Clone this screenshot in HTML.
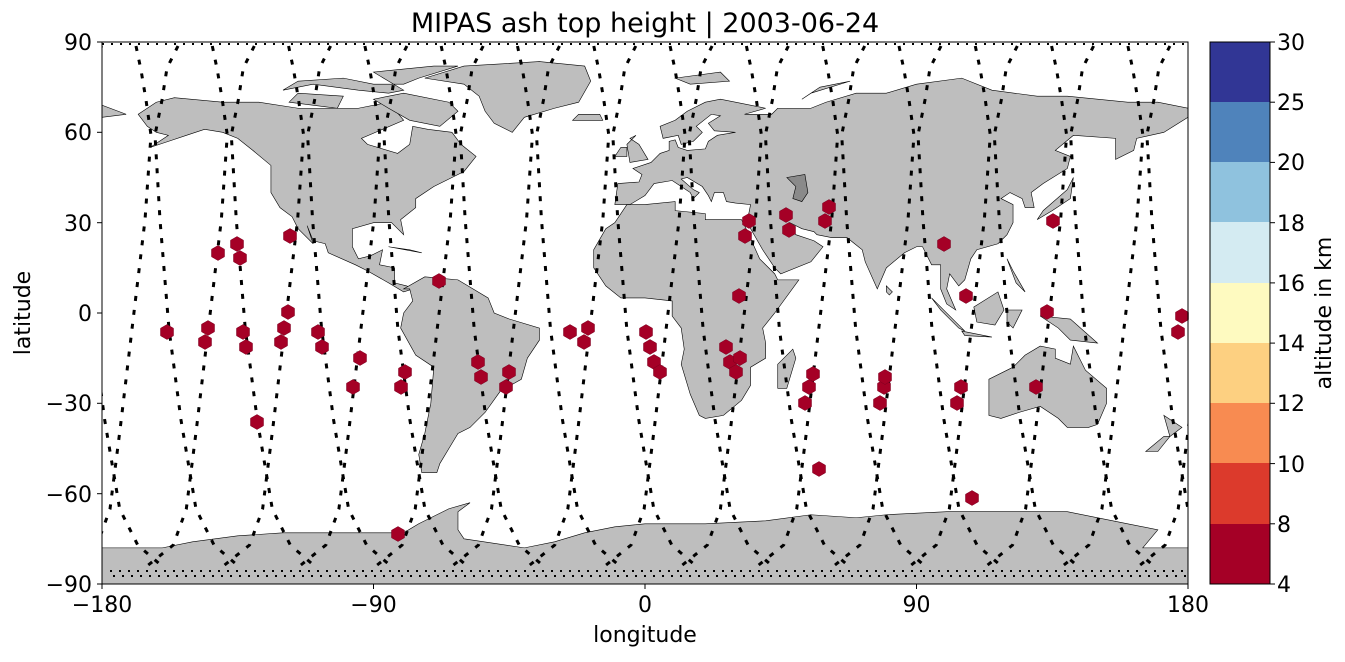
<!DOCTYPE html>
<html><head><meta charset="utf-8"><style>
html,body{margin:0;padding:0;background:#fff;}
svg text{font-family:"DejaVu Sans","Liberation Sans",sans-serif;fill:#000;}
</style></head><body>
<svg width="1345" height="657" viewBox="0 0 1345 657" xmlns="http://www.w3.org/2000/svg">
<defs><clipPath id="pc"><rect x="102" y="42" width="1086" height="542"/></clipPath>
<polygon id="h" points="0,-7.5 6.5,-3.75 6.5,3.75 0,7.5 -6.5,3.75 -6.5,-3.75"/>
<g id="tr" fill="none" stroke="#000" stroke-width="3" stroke-dasharray="5 9" stroke-linejoin="round">
<polyline points="-16,46 -11,70 -6,100 -1,135 -7,220 -20,329 -32,430 -42,509 -55,545 -80,565"/>
<polyline points="26,46 15,68 10,100 3,135 8,220 17,329 29,420 44,509 62,545 85,565"/>
</g></defs>
<g clip-path="url(#pc)">
<g transform="translate(102,42) scale(3.0167,3.0111) translate(180,90) scale(1,-1)" fill="#bebebe" stroke="#000" stroke-width="0.6">
<polygon vector-effect="non-scaling-stroke" points="-168,66 -162,70 -156,71.5 -140,70 -128,70 -115,68 -95,68 -85,70 -80,64 -94,58 -92,56 -82,53 -78,56 -77,62 -72,61 -64,60 -61,56 -56,52 -60,47 -66,44 -70,42 -76,38 -76,35 -81,31 -80,26 -82,28 -84,30 -90,30 -97,28 -97,22 -95,18 -91,19 -87,21 -88,16 -83,15 -83,10 -79,9 -77,8 -80,7 -85,10 -92,14 -96,16 -105,20 -106,23 -110,24 -112,29 -110,23 -115,28 -117,32 -121,35 -124,40 -124,46 -124,49 -130,54 -135,58 -140,60 -146,61 -152,59 -158,57 -164,55 -158,59 -162,60 -165,62"/>
<polygon vector-effect="non-scaling-stroke" points="-73,78 -60,82 -35,83.5 -20,82 -18,77 -22,70 -30,68 -40,65 -44,60 -50,63 -53,67 -55,72 -60,76"/>
<polygon vector-effect="non-scaling-stroke" points="-120,74 -110,76 -95,74 -85,73 -80,74 -90,80 -70,82 -62,82 -75,78 -80,76 -90,76 -100,78 -115,77"/>
<polygon vector-effect="non-scaling-stroke" points="-80,73 -65,70 -62,67 -68,62 -78,64 -85,68 -90,71"/>
<polygon vector-effect="non-scaling-stroke" points="-118,70 -102,68 -100,72 -115,73"/>
<polygon vector-effect="non-scaling-stroke" points="-80,8 -73,12 -62,11 -52,5 -50,0 -45,-2 -35,-5 -35,-9 -39,-15 -41,-22 -48,-26 -53,-33 -58,-38 -62,-40 -65,-45 -68,-50 -69,-53 -74,-53 -75,-47 -73,-40 -71,-30 -70,-18 -76,-14 -81,-5 -80,0 -77,4 -78,8"/>
<polygon vector-effect="non-scaling-stroke" points="-10,36 -9,43 -2,43.5 -1,46 -4,48 2,50 5,53 8,54 8,57 10,57.5 11,55 14,54 20,54.5 21,57 24,59 30,60 23,60.5 21,63 25,65.5 22,66 17,62 19,60 16,57 12,56 11,59 6,58 5,62 10,64 14,67 20,70 25,71 30,70 40,68 33,66 42,66 44,68 55,68 60,70 70,73 80,73 90,76 105,78 115,74 130,72 140,72 160,70 170,70 180,68 180,65 172,60 163,58 162,54 156,51 156,58 142,59 136,54 141,52 140,48 132,43 128,40 129,35 126,35 125,38 121,40 118,38 122,36 122,30 120,26 117,23 110,21 108,18 106,11 104,9 101,13 100,8 103,1 100,3 98,8 98,16 95,16 92,22 90,22 86,20 80,15 77,8 73,17 72,21 67,25 62,25 57,26 56,27 52,28 48,30 50,26 56,24 59,22 55,17 45,13 43,15 39,21 35,28 34,31 35,36 30,36.5 27,37 26,40 23,40 22,37 21,39 19,42 14,45 12,44.5 16,41 18,40 16,38 15,40 12,42 9,44 3,43 0,39 -5,36"/>
<polygon vector-effect="non-scaling-stroke" points="-17,21 -17,15 -13,9 -8,5 0,5 9,4 9,-1 12,-5 13,-12 12,-17 15,-27 18,-34 20,-35 26,-34 32,-29 35,-24 35,-18 40,-15 40,-10 39,-5 43,0 51,11 44,11 43,13 38,18 34,27 32,31 30,31 20,31 20,33 10,34 10,37 0,36 -6,36 -10,30 -13,28"/>
<polygon vector-effect="non-scaling-stroke" points="44,-25 47,-25 50,-15 49,-12 44,-17"/>
<polygon vector-effect="non-scaling-stroke" points="114,-22 114,-34 118,-35 124,-33 131,-31 137,-35 140,-38 147,-38 150,-37 153,-30 153,-25 146,-19 142,-11 141,-17 136,-15 136,-12 131,-11 126,-14 122,-18"/>
<polygon vector-effect="non-scaling-stroke" points="-180,-90 -180,-78 -160,-78 -150,-76 -135,-74 -120,-73 -100,-73 -80,-73 -75,-70 -65,-65 -58,-63 -62,-66 -62,-72 -60,-75 -40,-78 -30,-76 -20,-73 -10,-71 0,-70 20,-70 40,-69 55,-67 70,-68 80,-67 100,-66 120,-66 140,-66 160,-70 170,-72 165,-78 180,-78 180,-90"/>
<polygon vector-effect="non-scaling-stroke" points="95,5 106,-6 104,-5 98,1"/>
<polygon vector-effect="non-scaling-stroke" points="109,2 117,7 119,1 116,-4 110,-3"/>
<polygon vector-effect="non-scaling-stroke" points="105,-6 115,-8 106,-7.5"/>
<polygon vector-effect="non-scaling-stroke" points="131,-1 141,-2 150,-10 141,-9 137,-5"/>
<polygon vector-effect="non-scaling-stroke" points="120,1 125,1 122,-5 120,-3"/>
<polygon vector-effect="non-scaling-stroke" points="120,18 122,14 126,7 123,10"/>
<polygon vector-effect="non-scaling-stroke" points="130,31 135,34 141,38 142,45 140,41 132,34"/>
<polygon vector-effect="non-scaling-stroke" points="-5,50 1,51 -2,56 -5,58 -3,59 -6,56"/>
<polygon vector-effect="non-scaling-stroke" points="-10,52 -6,52 -6,55 -8,55"/>
<polygon vector-effect="non-scaling-stroke" points="-24,64 -14,64 -15,66 -22,66"/>
<polygon vector-effect="non-scaling-stroke" points="172,-34 178,-38 174,-41"/>
<polygon vector-effect="non-scaling-stroke" points="166,-46 170,-46 174,-41 172,-41"/>
<polygon vector-effect="non-scaling-stroke" points="-85,22 -74,20 -78,21"/>
<polygon vector-effect="non-scaling-stroke" points="80,9 82,7 81,6 80,7"/>
<polygon vector-effect="non-scaling-stroke" points="10,78 25,80 28,77 15,76"/>
<polygon vector-effect="non-scaling-stroke" points="52,71 58,75 68,77 55,73"/>
<polygon vector-effect="non-scaling-stroke" points="-180,65 -172,66 -180,69"/>
<polygon fill="#8a8a8a" vector-effect="non-scaling-stroke" points="47,45 53,46 54,40 52,37 49,38 50,42"/>
</g>
<use href="#tr" x="75.7"/><use href="#tr" x="152"/><use href="#tr" x="228.3"/><use href="#tr" x="304.6"/><use href="#tr" x="380.9"/><use href="#tr" x="457.2"/><use href="#tr" x="533.5"/><use href="#tr" x="609.8"/><use href="#tr" x="686.1"/><use href="#tr" x="762.4"/><use href="#tr" x="838.7"/><use href="#tr" x="915"/><use href="#tr" x="991.3"/><use href="#tr" x="1067.6"/><use href="#tr" x="1143.9"/><use href="#tr" x="1220.2"/>
<g stroke="#000" stroke-width="2" stroke-dasharray="2 7">
<line x1="102" y1="44" x2="1188" y2="44"/><line x1="110" y1="571" x2="1188" y2="571"/><line x1="113" y1="576" x2="1188" y2="576"/>
</g>
</g>
<g fill="#a50026" stroke="#7a0020" stroke-width="0.5">
<use href="#h" x="167" y="332"/><use href="#h" x="205" y="342"/><use href="#h" x="208" y="328"/><use href="#h" x="218" y="253"/><use href="#h" x="237" y="244"/><use href="#h" x="240" y="258"/><use href="#h" x="243" y="332"/><use href="#h" x="246" y="347"/><use href="#h" x="257" y="422"/><use href="#h" x="281" y="342"/><use href="#h" x="284" y="328"/><use href="#h" x="288" y="312"/><use href="#h" x="290" y="236"/><use href="#h" x="318" y="332"/><use href="#h" x="322" y="347"/><use href="#h" x="353" y="387"/><use href="#h" x="360" y="358"/><use href="#h" x="398" y="534"/><use href="#h" x="401" y="387"/><use href="#h" x="405" y="372"/><use href="#h" x="439" y="281"/><use href="#h" x="478" y="362"/><use href="#h" x="481" y="377"/><use href="#h" x="506" y="387"/><use href="#h" x="509" y="372"/><use href="#h" x="570" y="332"/><use href="#h" x="584" y="342"/><use href="#h" x="588" y="328"/><use href="#h" x="646" y="332"/><use href="#h" x="650" y="347"/><use href="#h" x="654" y="362"/><use href="#h" x="660" y="372"/><use href="#h" x="726" y="347"/><use href="#h" x="730" y="362"/><use href="#h" x="736" y="372"/><use href="#h" x="739" y="296"/><use href="#h" x="740" y="358"/><use href="#h" x="745" y="236"/><use href="#h" x="749" y="221"/><use href="#h" x="786" y="215"/><use href="#h" x="789" y="230"/><use href="#h" x="825" y="221"/><use href="#h" x="829" y="207"/><use href="#h" x="805" y="403"/><use href="#h" x="809" y="387"/><use href="#h" x="813" y="374"/><use href="#h" x="819" y="469"/><use href="#h" x="880" y="403"/><use href="#h" x="884" y="387"/><use href="#h" x="885" y="377"/><use href="#h" x="944" y="244"/><use href="#h" x="966" y="296"/><use href="#h" x="957" y="403"/><use href="#h" x="961" y="387"/><use href="#h" x="972" y="498"/><use href="#h" x="1036" y="387"/><use href="#h" x="1047" y="312"/><use href="#h" x="1053" y="221"/><use href="#h" x="1178" y="332"/><use href="#h" x="1182" y="316"/>
</g>
<rect x="102" y="42" width="1086" height="542" fill="none" stroke="#000" stroke-width="1"/>
<g stroke="#000" stroke-width="1">
<line x1="102" y1="584" x2="102" y2="589"/><line x1="373.5" y1="584" x2="373.5" y2="589"/><line x1="645" y1="584" x2="645" y2="589"/><line x1="916.5" y1="584" x2="916.5" y2="589"/><line x1="1188" y1="584" x2="1188" y2="589"/>
<line x1="97" y1="42" x2="102" y2="42"/><line x1="97" y1="132.3" x2="102" y2="132.3"/><line x1="97" y1="222.7" x2="102" y2="222.7"/><line x1="97" y1="313" x2="102" y2="313"/><line x1="97" y1="403.3" x2="102" y2="403.3"/><line x1="97" y1="493.7" x2="102" y2="493.7"/><line x1="97" y1="584" x2="102" y2="584"/>
</g>
<g font-size="22" text-anchor="middle">
<text x="102" y="612">−180</text><text x="373.5" y="612">−90</text><text x="645" y="612">0</text><text x="916.5" y="612">90</text><text x="1188" y="612">180</text>
</g>
<g font-size="22" text-anchor="end">
<text x="92" y="50">90</text><text x="92" y="140">60</text><text x="92" y="231">30</text><text x="92" y="321">0</text><text x="92" y="411">−30</text><text x="92" y="502">−60</text><text x="92" y="592">−90</text>
</g>
<text x="645" y="642" font-size="22" text-anchor="middle">longitude</text>
<text x="0" y="0" font-size="22" text-anchor="middle" transform="translate(30,313) rotate(-90)">latitude</text>
<text x="645" y="32" font-size="27" text-anchor="middle">MIPAS ash top height | 2003-06-24</text>
<g>
<rect x="1210" y="42" width="60" height="61" fill="#313695"/>
<rect x="1210" y="102" width="60" height="61" fill="#4f83bb"/>
<rect x="1210" y="162" width="60" height="61" fill="#8fc2de"/>
<rect x="1210" y="222" width="60" height="61" fill="#d4ebf2"/>
<rect x="1210" y="283" width="60" height="61" fill="#fefac0"/>
<rect x="1210" y="343" width="60" height="61" fill="#fdd081"/>
<rect x="1210" y="403" width="60" height="61" fill="#f88b51"/>
<rect x="1210" y="463" width="60" height="61" fill="#dc3a2c"/>
<rect x="1210" y="524" width="60" height="60" fill="#a50026"/>
<rect x="1210" y="42" width="60" height="542" fill="none" stroke="#000" stroke-width="1"/>
</g>
<g stroke="#000" stroke-width="1">
<line x1="1270" y1="42" x2="1275" y2="42"/><line x1="1270" y1="102.2" x2="1275" y2="102.2"/><line x1="1270" y1="162.4" x2="1275" y2="162.4"/><line x1="1270" y1="222.7" x2="1275" y2="222.7"/><line x1="1270" y1="282.9" x2="1275" y2="282.9"/><line x1="1270" y1="343.1" x2="1275" y2="343.1"/><line x1="1270" y1="403.3" x2="1275" y2="403.3"/><line x1="1270" y1="463.6" x2="1275" y2="463.6"/><line x1="1270" y1="523.8" x2="1275" y2="523.8"/><line x1="1270" y1="584" x2="1275" y2="584"/>
</g>
<g font-size="22">
<text x="1277" y="50">30</text><text x="1277" y="110">25</text><text x="1277" y="170">20</text><text x="1277" y="231">18</text><text x="1277" y="291">16</text><text x="1277" y="351">14</text><text x="1277" y="411">12</text><text x="1277" y="472">10</text><text x="1277" y="532">8</text><text x="1277" y="592">4</text>
</g>
<text x="0" y="0" font-size="22" text-anchor="middle" transform="translate(1331,313) rotate(-90)">altitude in km</text>
</svg>
</body></html>
